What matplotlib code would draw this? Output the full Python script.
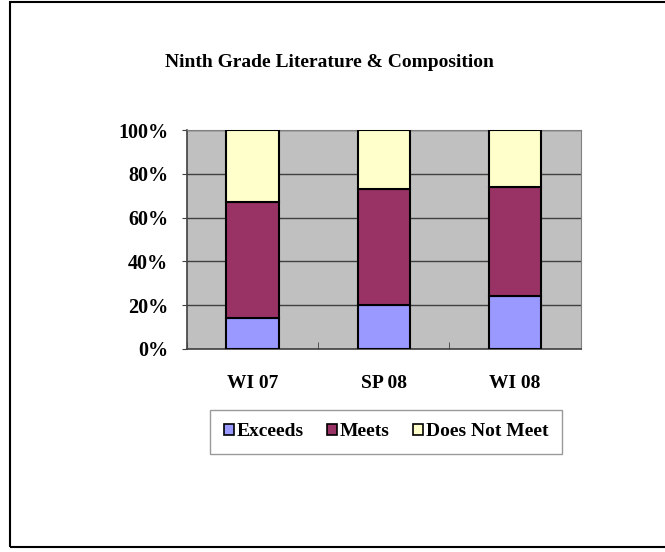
import matplotlib
matplotlib.use("Agg")
import matplotlib.pyplot as plt
from matplotlib.patches import Rectangle
import numpy as np

# data (percent)
terms = ["WI 07", "SP 08", "WI 08"]
exceeds = [14, 20, 24]
meets = [53, 53, 50]
does_not_meet = [33, 27, 26]

series_names = ["Exceeds", "Meets", "Does Not Meet"]
series_colors = ["#9999FF", "#993366", "#FFFFCC"]

plt.rcParams['font.family'] = ['Liberation Serif', 'DejaVu Serif']
plt.rcParams['font.weight'] = 'bold'

fig = plt.figure(figsize=(6.65, 5.52), dpi=100)

# outer chart frame
fig.patches.append(Rectangle((9.5 / 665, 5.0 / 552), 1.0, 545 / 552, transform=fig.transFigure,
                             fill=False, edgecolor="black", linewidth=1.5))

ax = fig.add_axes([187 / 665, 1 - 349 / 552, 393.7 / 665, 219 / 552])
ax.set_facecolor("#C0C0C0")

x = np.arange(len(terms))
bottom = np.zeros(len(terms))
for name, vals, col in zip(series_names, [exceeds, meets, does_not_meet], series_colors):
    ax.bar(x, vals, width=0.4, bottom=bottom, color=col, edgecolor="black",
           linewidth=1.5, label=name, zorder=3)
    bottom += np.array(vals)

ax.set_xlim(-0.5, len(terms) - 0.5)
ax.set_ylim(0, 100)
ax.set_yticks(range(0, 101, 20))
ax.set_yticklabels([f"{v}%" for v in range(0, 101, 20)], fontsize=14.5, fontweight='bold')
ax.yaxis.grid(True, color="#404040", linewidth=1, zorder=1)
ax.set_axisbelow(True)

ax.set_xticks(x)
ax.set_xticklabels(terms, fontsize=14, fontweight='bold')
ax.tick_params(axis='x', length=0, pad=19)
ax.set_xticks(np.arange(-0.5, len(terms)), minor=True)
ax.tick_params(axis='x', which='minor', direction='in', length=5, color="#404040")
ax.tick_params(axis='y', direction='out', length=3.6, color="#404040", pad=10)

for side in ["top", "right"]:
    ax.spines[side].set_color("#808080")
for side in ["left", "bottom"]:
    ax.spines[side].set_color("#404040")
    ax.spines[side].set_linewidth(1.2)

fig.text(329 / 665, 1 - 62 / 552, "Ninth Grade Literature & Composition",
         ha="center", va="center", fontsize=14, fontweight='bold')

handles = [Rectangle((0, 0), 1, 1, facecolor=c, edgecolor="black", linewidth=1.2) for c in series_colors]
leg = fig.legend(handles, series_names, loc="center", bbox_to_anchor=(386 / 665, 1 - 432 / 552),
                 ncol=3, frameon=True, fancybox=False, edgecolor="#808080",
                 prop={'size': 14, 'weight': 'bold'}, handlelength=0.5, handleheight=0.5,
                 handletextpad=0.15, columnspacing=1.2, borderpad=0.7)
leg.get_frame().set_linewidth(1)

fig.savefig("out.png", dpi=100)
